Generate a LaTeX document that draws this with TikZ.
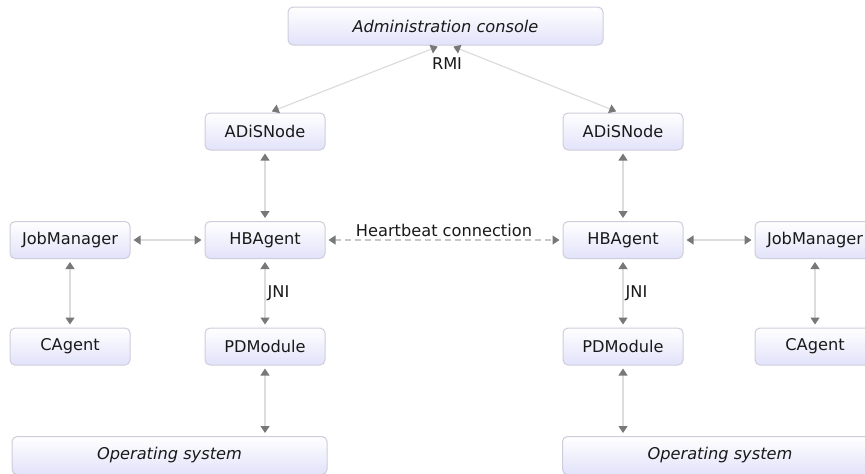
\documentclass[tikz,border=0pt]{standalone}
\usepackage{fontspec}
\setmainfont{DejaVu Sans}
\usetikzlibrary{arrows.meta}
\definecolor{boxtop}{RGB}{255,255,255}
\definecolor{boxbot}{RGB}{226,226,250}
\definecolor{boxline}{RGB}{205,205,220}
\definecolor{linegray}{RGB}{220,220,220}
\definecolor{dashgray}{RGB}{200,200,200}
\definecolor{tipgray}{RGB}{120,120,120}
\definecolor{txt}{RGB}{25,25,25}
\begin{document}
\begin{tikzpicture}[x=0.5pt,y=-0.5pt,
  box/.style={rounded corners=2.5pt, draw=boxline, line width=0.5pt,
    top color=boxtop, bottom color=boxbot,
    minimum width=60pt, minimum height=18.5pt, inner sep=0pt,
    text=txt, font=\fontsize{8.1pt}{9.7pt}\selectfont},
  wide/.style={box, minimum width=157.5pt, minimum height=19pt, font=\fontsize{8.1pt}{9.7pt}\selectfont\itshape},
  conn/.style={draw=linegray, line width=0.6pt, {Triangle[color=tipgray,width=4.5pt,length=3.5pt]}-{Triangle[color=tipgray,width=4.5pt,length=3.5pt]}, shorten <=1.5pt, shorten >=1.5pt},
  hb/.style={conn, draw=dashgray, dash pattern=on 3pt off 2pt},
  lbl/.style={text=txt, inner sep=0pt, font=\fontsize{8.1pt}{9.7pt}\selectfont}]
\useasboundingbox (0,0) rectangle (865,473);
\clip (0,0) rectangle (865,473);

\node[wide] (admin) at (445.5,26) {Administration console};
\node[box] (adL) at (265,131.5) {ADiSNode};
\node[box] (adR) at (623,131.5) {ADiSNode};
\node[box] (hbL) at (265,240) {HBAgent};
\node[box] (hbR) at (623,240) {HBAgent};
\node[box] (jmL) at (70,240) {JobManager};
\node[box] (jmR) at (815,240) {JobManager};
\node[box] (caL) at (70,346.5) {CAgent};
\node[box] (caR) at (815,346.5) {CAgent};
\node[box] (pdL) at (265,346.5) {PDModule};
\node[box] (pdR) at (623,346.5) {PDModule};
\node[wide] (osL) at (169.5,455.5) {Operating system};
\node[wide] (osR) at (720,455.5) {Operating system};

\draw[conn] ([xshift=-2.5pt]admin.south) -- ([xshift=2pt]adL.north);
\draw[conn] ([xshift=2.5pt]admin.south) -- ([xshift=-2pt]adR.north);
\node[lbl] (rmi) at (447,64) {RMI};

\draw[conn] (adL) -- (hbL);
\draw[conn] (adR) -- (hbR);
\draw[conn] (hbL) -- (pdL) node[lbl, midway, anchor=west, xshift=1pt] (jniL) {JNI};
\draw[conn] (hbR) -- (pdR) node[lbl, midway, anchor=west, xshift=1pt] (jniR) {JNI};
\draw[conn] (jmL) -- (caL);
\draw[conn] (jmR) -- (caR);
\draw[conn] (jmL) -- (hbL);
\draw[conn] (hbR) -- (jmR);
\draw[conn] (pdL.south) -- (pdL.south |- osL.north);
\draw[conn] (pdR.south) -- (pdR.south |- osR.north);
\draw[hb] (hbL) -- (hbR) node[lbl, midway, above, yshift=1.5pt] (hbtxt) {Heartbeat connection};
\end{tikzpicture}
\end{document}
